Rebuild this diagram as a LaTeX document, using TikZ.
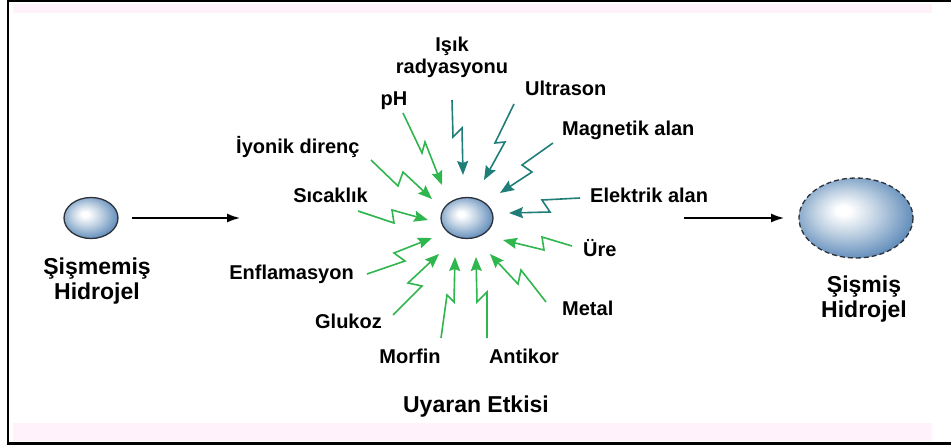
\documentclass[tikz,border=0pt]{standalone}
\usepackage{fontspec}
\setmainfont{Liberation Sans}
\usetikzlibrary{arrows.meta}

\definecolor{stimgreen}{RGB}{48,182,78}
\definecolor{stimteal}{RGB}{32,126,120}
\definecolor{stripink}{RGB}{255,242,250}
\definecolor{gelrim}{RGB}{45,50,58}
\definecolor{gellight}{RGB}{190,208,226}
\definecolor{gelmid}{RGB}{110,150,192}
\definecolor{geldark}{RGB}{48,102,150}

% off-centre highlight for the hydrogel spheres
\pgfdeclareradialshading{gelball}{\pgfpoint{-6bp}{5bp}}{%
  color(0bp)=(white); color(3bp)=(white);
  color(14bp)=(gellight); color(26bp)=(gelmid);
  color(34bp)=(geldark); color(50bp)=(geldark)}

\tikzset{
  gelshape/.style={shading=gelball, draw=gelrim, line width=1.3pt},
  lbl/.style={font=\bfseries\fontsize{20}{22}\selectfont, inner sep=0pt, text=black},
  biglbl/.style={font=\bfseries\fontsize{23}{25}\selectfont, inner sep=0pt, text=black},
  flow/.style={line width=1.5pt, -{Latex[length=13pt,width=9pt]}},
  bolt/.style={line width=1.6pt, line join=miter,
               -{Stealth[length=14pt,width=11pt,inset=2pt]}},
  boltg/.style={bolt, draw=stimgreen},
  boltt/.style={bolt, draw=stimteal},
}

\begin{document}
\begin{tikzpicture}[x=1pt, y=-1pt]
\useasboundingbox (0,0) rectangle (951,447);

% frame and pale bands
\fill[stripink] (13,4) rectangle (932,13);
\fill[stripink] (13,423) rectangle (932,441);
\draw[line width=2.5pt] (951,1.2) -- (8,1.2) -- (8,443.5) -- (951,443.5);

% hydrogel spheres
\path[gelshape] (91,218) ellipse [x radius=27, y radius=20.5];
\coordinate (dry) at (91,218);
\path[gelshape] (467,218) ellipse [x radius=26, y radius=20.5];
\coordinate (mid) at (467,218);
\path[gelshape, dash pattern=on 5pt off 3pt] (856,218) ellipse [x radius=57, y radius=40];
\coordinate (wet) at (856,218);

% process arrows
\coordinate (a1s) at (132,218); \coordinate (a1e) at (240,218);
\coordinate (a2s) at (684,218); \coordinate (a2e) at (784,218);
\draw[flow] (a1s) -- (a1e);
\draw[flow] (a2s) -- (a2e);

% hydrogel captions
\node[biglbl, anchor=base] (dry1) at (97,274) {Şişmemiş};
\node[biglbl, anchor=base] (dry2) at (97,299) {Hidrojel};
\node[biglbl, anchor=base] (wet1) at (864,292) {Şişmiş};
\node[biglbl, anchor=base] (wet2) at (864,317) {Hidrojel};
\node[biglbl, anchor=base] (title) at (476,412) {Uyaran Etkisi};

% stimulus labels
\node[lbl, anchor=base] (isik1) at (452,51) {Işık};
\node[lbl, anchor=base] (isik2) at (452,73) {radyasyonu};
\node[lbl, anchor=base] (ph) at (394,105) {pH};
\node[lbl, anchor=base west] (ultra) at (525,95) {Ultrason};
\node[lbl, anchor=base west] (magn) at (562,135) {Magnetik alan};
\node[lbl, anchor=base west] (iyon) at (236,153) {İyonik direnç};
\node[lbl, anchor=base west] (elek) at (590,202) {Elektrik alan};
\node[lbl, anchor=base east] (sica) at (368,202) {Sıcaklık};
\node[lbl, anchor=base west] (ure) at (583,256) {Üre};
\node[lbl, anchor=base east] (enfl) at (354,279) {Enflamasyon};
\node[lbl, anchor=base west] (metal) at (562,315) {Metal};
\node[lbl, anchor=base east] (gluk) at (382,328) {Glukoz};
\node[lbl, anchor=base] (morf) at (410,363) {Morfin};
\node[lbl, anchor=base] (anti) at (524,363) {Antikor};

% lightning-bolt stimulus arrows: start, zig, zag, tip
\coordinate (isikS) at (452,100); \coordinate (isikT) at (463,175);
\draw[boltt] (isikS) -- (453,137) -- (462,128) -- (isikT);
\coordinate (ultraS) at (514,104); \coordinate (ultraT) at (484,180);
\draw[boltt] (ultraS) -- (495,143) -- (505,142) -- (ultraT);
\coordinate (magnS) at (553,143); \coordinate (magnT) at (500,193);
\draw[boltt] (magnS) -- (522,165) -- (532,172) -- (magnT);
\coordinate (elekS) at (580,198); \coordinate (elekT) at (509,213);
\draw[boltt] (elekS) -- (542,200) -- (550,212) -- (elekT);

\coordinate (phS) at (403,113); \coordinate (phT) at (442,185);
\draw[boltg] (phS) -- (422,153) -- (425,142) -- (phT);
\coordinate (iyonS) at (371,160); \coordinate (iyonT) at (432,199);
\draw[boltg] (iyonS) -- (398,186) -- (403,172) -- (iyonT);
\coordinate (sicaS) at (358,211); \coordinate (sicaT) at (428,220);
\draw[boltg] (sicaS) -- (394,223) -- (392,210) -- (sicaT);
\coordinate (enflS) at (367,274); \coordinate (enflT) at (432,238);
\draw[boltg] (enflS) -- (405,261) -- (394,253) -- (enflT);
\coordinate (glukS) at (393,315); \coordinate (glukT) at (439,254);
\draw[boltg] (glukS) -- (422,286) -- (408,283) -- (glukT);
\coordinate (morfS) at (441,338); \coordinate (morfT) at (455,257);
\draw[boltg] (morfS) -- (447,295) -- (454,302) -- (morfT);
\coordinate (antiS) at (487,338); \coordinate (antiT) at (476,257);
\draw[boltg] (antiS) -- (487,292) -- (477,302) -- (antiT);
\coordinate (metalS) at (546,302); \coordinate (metalT) at (490,254);
\draw[boltg] (metalS) -- (521,270) -- (518,284) -- (metalT);
\coordinate (ureS) at (572,246); \coordinate (ureT) at (503,240);
\draw[boltg] (ureS) -- (542,237) -- (544,250) -- (ureT);
\end{tikzpicture}
\end{document}
